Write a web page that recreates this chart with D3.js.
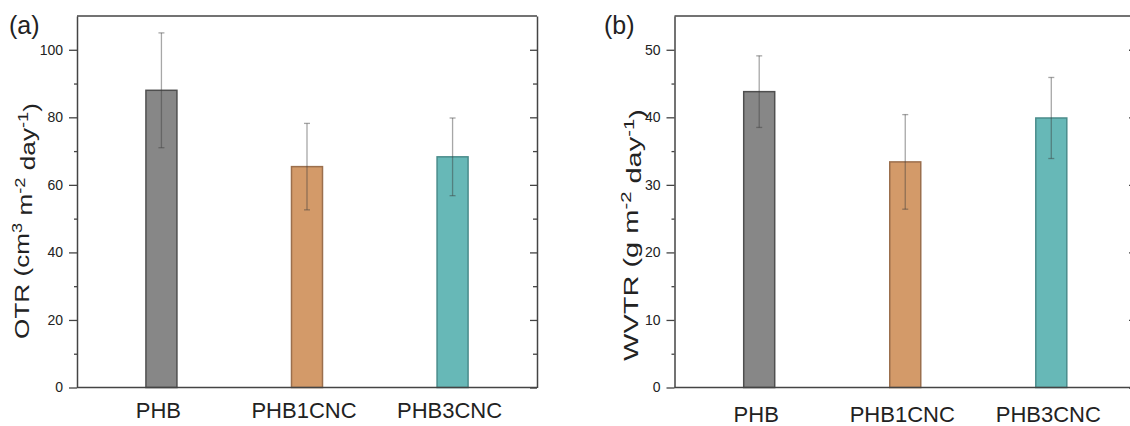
<!DOCTYPE html>
<html>
<head>
<meta charset="utf-8">
<script src="https://cdn.jsdelivr.net/npm/d3@7"></script>
<style>
  body { margin: 0; background: #fff; }
  text { font-family: "Liberation Sans", Arial, sans-serif; fill: #222; }
</style>
</head>
<body>
<svg id="chart" width="1130" height="426"></svg>
<script>
// Barrier properties of PHB films with cellulose nanocrystals
const categories = ["PHB", "PHB1CNC", "PHB3CNC"];

// (a) oxygen transmission rate
const otrMean = [88.0, 65.4, 68.3];
const otrErr  = [17.0, 12.8, 11.5];
const otrTicks = [0, 20, 40, 60, 80, 100];
const otrMinor = [10, 30, 50, 70, 90];

// (b) water vapour transmission rate
const wvtrMean = [43.8, 33.4, 39.9];
const wvtrErr  = [5.3, 7.0, 6.0];
const wvtrTicks = [0, 10, 20, 30, 40, 50];
const wvtrMinor = [5, 15, 25, 35, 45];

const barFill   = ["#878787", "#d39a69", "#67b8b7"];
const barStroke = ["#4f4f4f", "#9b6f4d", "#4a8c8b"];

const svg = d3.select("#chart");
const axisColor = "#444";

function drawPanel(o) {
  const g = svg.append("g");
  const top = 16, bottom = 387.5;
  const x = d3.scalePoint().domain(categories).range([o.x0, o.x1]).padding(0.58);
  const y = d3.scaleLinear().domain([0, o.max]).range([bottom, top]);
  const bw = 31;

  // bars
  g.selectAll("rect.bar").data(categories).join("rect")
    .attr("class", "bar")
    .attr("x", d => x(d) - bw / 2)
    .attr("width", bw)
    .attr("y", (d, i) => y(o.mean[i]))
    .attr("height", (d, i) => y(0) - y(o.mean[i]))
    .attr("fill", (d, i) => barFill[i])
    .attr("stroke", (d, i) => barStroke[i])
    .attr("stroke-width", 1.5);

  // error bars
  const eb = g.selectAll("g.err").data(categories).join("g")
    .attr("class", "err")
    .attr("stroke", "rgba(60,60,60,0.45)")
    .attr("stroke-width", 1.3);
  eb.append("line")
    .attr("x1", d => x(d)).attr("x2", d => x(d))
    .attr("y1", (d, i) => y(o.mean[i] + o.err[i]))
    .attr("y2", (d, i) => y(o.mean[i] - o.err[i]));
  eb.append("line")
    .attr("x1", d => x(d) - 3).attr("x2", d => x(d) + 3)
    .attr("y1", (d, i) => y(o.mean[i] + o.err[i]))
    .attr("y2", (d, i) => y(o.mean[i] + o.err[i]));
  eb.append("line")
    .attr("x1", d => x(d) - 3).attr("x2", d => x(d) + 3)
    .attr("y1", (d, i) => y(o.mean[i] - o.err[i]))
    .attr("y2", (d, i) => y(o.mean[i] - o.err[i]));

  // left axis: major ticks with labels, short minor ticks
  const left = g.append("g").attr("transform", `translate(${o.x0},0)`)
    .call(d3.axisLeft(y).tickValues(o.ticks).tickSize(8).tickSizeOuter(0).tickPadding(6));
  left.selectAll("text").style("font-size", "14px").attr("fill", "#333");
  g.append("g").attr("transform", `translate(${o.x0},0)`)
    .call(d3.axisLeft(y).tickValues(o.minor).tickSize(3).tickFormat(""))
    .select(".domain").remove();

  // right axis: inward ticks, no labels
  g.append("g").attr("transform", `translate(${o.x1},0)`)
    .call(d3.axisRight(y).tickValues(o.ticks).tickSize(-7).tickSizeOuter(0).tickFormat(""));
  g.append("g").attr("transform", `translate(${o.x1},0)`)
    .call(d3.axisRight(y).tickValues(o.minor).tickSize(-4).tickFormat(""))
    .select(".domain").remove();

  // top and bottom frame lines
  g.append("line").attr("x1", o.x0).attr("x2", o.x1).attr("y1", top).attr("y2", top);
  g.append("line").attr("x1", o.x0).attr("x2", o.x1).attr("y1", bottom).attr("y2", bottom);

  g.selectAll("path.domain, line").filter(function () { return !this.closest(".err"); })
    .attr("stroke", axisColor).attr("stroke-width", 1.5);
  g.selectAll(".tick line").attr("stroke-width", 1.3);

  // category labels
  g.selectAll("text.cat").data(categories).join("text")
    .attr("class", "cat")
    .attr("x", d => x(d) - 3)
    .attr("y", o.labelY)
    .attr("text-anchor", "middle")
    .style("font-size", "22px")
    .text(d => d);

  // y-axis title with superscripts, stretched along its length to the axis span
  const t = g.append("text")
    .attr("text-anchor", "middle")
    .style("font-size", "20px");
  o.title.forEach(part => {
    const s = t.append("tspan").text(part.t);
    if (part.sup) s.attr("dy", "-0.5em").style("font-size", "14px");
    if (part.back) s.attr("dy", "0.5em");
  });
  const natural = t.node().getComputedTextLength();
  const k = o.titleLen / natural;
  t.attr("transform", `translate(${o.titleX},${o.titleY}) rotate(-90) scale(${k},1)`);

  // panel letter
  svg.append("text").attr("x", o.letterX).attr("y", 33.5)
    .style("font-size", "25px").text(o.letter);
}

drawPanel({
  x0: 77, x1: 537, max: 110,
  mean: otrMean, err: otrErr, ticks: otrTicks, minor: otrMinor,
  labelY: 418, titleX: 28.5, titleY: 221, titleLen: 236,
  title: [
    { t: "OTR (cm" }, { t: "3", sup: true }, { t: " m", back: true },
    { t: "-2", sup: true }, { t: " day", back: true },
    { t: "-1", sup: true }, { t: ")", back: true }
  ],
  letter: "(a)", letterX: 9
});

drawPanel({
  x0: 674.5, x1: 1136, max: 55,
  mean: wvtrMean, err: wvtrErr, ticks: wvtrTicks, minor: wvtrMinor,
  labelY: 422, titleX: 638, titleY: 235, titleLen: 252,
  title: [
    { t: "WVTR (g m" }, { t: "-2", sup: true }, { t: " day", back: true },
    { t: "-1", sup: true }, { t: ")", back: true }
  ],
  letter: "(b)", letterX: 604
});
</script>
</body>
</html>
